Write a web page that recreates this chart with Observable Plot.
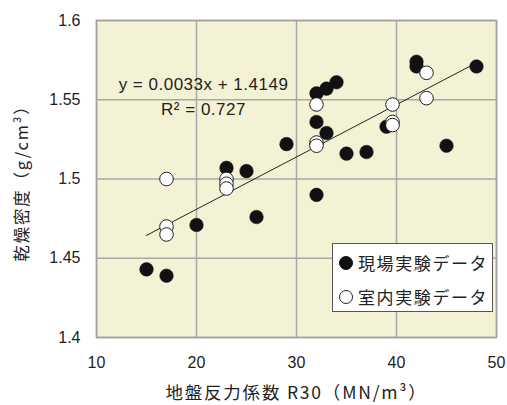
<!DOCTYPE html>
<html>
<head>
<meta charset="utf-8">
<script src="https://cdn.jsdelivr.net/npm/d3@7"></script>
<script src="https://cdn.jsdelivr.net/npm/@observablehq/plot@0.6"></script>
<style>
  html, body { margin: 0; padding: 0; background: #fff; }
  #wrap { position: relative; width: 507px; height: 405px; font-family: "Liberation Sans", "Noto Sans CJK JP", sans-serif; }
  #legend { position: absolute; left: 332px; top: 243px; width: 161px; height: 69px; background: #fff; border: 1px solid #555; box-sizing: border-box; }
  #legend .item { position: absolute; left: 5px; display: flex; align-items: center; font-size: 17px; letter-spacing: 1.6px; color: #222; font-family: "Noto Sans CJK JP", sans-serif; }
</style>
</head>
<body>
<div id="wrap"></div>
<script>
// Data: 現場実験データ (field tests)
const fieldX = [15, 17, 20, 23, 25, 26, 29, 32, 33, 34, 32, 33, 35, 37, 39, 42, 42, 45, 48, 32];
const fieldY = [1.443, 1.439, 1.471, 1.507, 1.505, 1.476, 1.522, 1.554, 1.557, 1.561, 1.536, 1.529, 1.516, 1.517, 1.533, 1.574, 1.571, 1.521, 1.571, 1.490];
// 室内実験データ (laboratory tests)
const labX = [17, 17, 17, 23, 23, 23, 32, 32, 32, 39.6, 39.6, 39.6, 43, 43];
const labY = [1.500, 1.470, 1.465, 1.500, 1.497, 1.494, 1.547, 1.523, 1.521, 1.547, 1.536, 1.534, 1.567, 1.551];
// Regression line
const slope = 0.0033, intercept = 1.4149;
const fitRange = [15, 48];
const xTicks = [10, 20, 30, 40, 50];
const yTicks = [1.4, 1.45, 1.5, 1.55, 1.6];
const seriesNames = ["現場実験データ", "室内実験データ"];
const xTitle = "地盤反力係数 R30（MN/m³）";
const yTitle = "乾燥密度（g/cm³）";
const eqText = "y = 0.0033x + 1.4149\nR² = 0.727";

const field = fieldX.map((x, i) => ({x, y: fieldY[i]}));
const lab = labX.map((x, i) => ({x, y: labY[i]}));
const fit = fitRange.map(x => ({x, y: slope * x + intercept}));

const fontFamily = '"Liberation Sans", "Noto Sans CJK JP", sans-serif';
const fig = Plot.plot({
  width: 507, height: 405,
  marginLeft: 96, marginRight: 11, marginTop: 20, marginBottom: 68,
  style: {fontFamily, fontSize: "16px", color: "#222", background: "white"},
  x: {domain: [10, 50]},
  y: {domain: [1.4, 1.6]},
  marks: [
    Plot.frame({fill: "#F4F2D4", stroke: null}),
    Plot.gridX(xTicks, {stroke: "#A8A8A8", strokeOpacity: 1, strokeWidth: 1.5}),
    Plot.gridY(yTicks, {stroke: "#A8A8A8", strokeOpacity: 1, strokeWidth: 1.5}),
    Plot.frame({stroke: "#A0A0A0", strokeWidth: 1.5}),
    Plot.axisX(xTicks, {tickSize: 0, tickPadding: 19, fontSize: 16, label: null, tickFormat: d => String(d)}),
    Plot.axisY(yTicks, {tickSize: 0, tickPadding: 16, fontSize: 16, label: null, tickFormat: d => String(+d.toFixed(2))}),
    Plot.line(fit, {x: "x", y: "y", stroke: "#222", strokeWidth: 1}),
    Plot.dot(field, {x: "x", y: "y", r: 6.8, fill: "#111", stroke: "#111", strokeWidth: 0.5}),
    Plot.dot(lab, {x: "x", y: "y", r: 6.8, fill: "#fff", stroke: "#222", strokeWidth: 1}),
    Plot.text([eqText], {frameAnchor: "top", dx: -93, dy: 74, lineAnchor: "middle", fontSize: 17, lineHeight: 1.47, fill: "#222"}),
    Plot.text([xTitle], {frameAnchor: "bottom", dy: 56, lineAnchor: "middle", fontSize: 17.5, fill: "#222", fontFamily: '"Noto Sans CJK JP", sans-serif'}),
    Plot.text([yTitle], {frameAnchor: "left", dx: -74, textAnchor: "middle", lineAnchor: "middle", rotate: -90, fontSize: 16.5, fill: "#222", fontFamily: '"Noto Sans CJK JP", sans-serif'})
  ]
});
const svgSel = d3.select(fig);
svgSel.selectAll("text").filter(function() { return /[\u3000-\u9fff\uff00-\uffef]/.test(this.textContent); }).style("letter-spacing", "1.8px");
svgSel.selectAll("text").filter(function() { return /^y = /.test(this.textContent); }).style("letter-spacing", "0.5px");
const wrap = document.getElementById("wrap");
wrap.appendChild(fig);

const legend = document.createElement("div");
legend.id = "legend";
const markers = [{fill: "#111", stroke: "#111"}, {fill: "#fff", stroke: "#222"}];
seriesNames.forEach((name, i) => {
  const item = document.createElement("div");
  item.className = "item";
  item.style.top = (i === 0 ? 6 : 40) + "px";
  item.innerHTML = `<svg width="16" height="16" style="margin-right:4px"><circle cx="8" cy="8" r="6.5" fill="${markers[i].fill}" stroke="${markers[i].stroke}" stroke-width="1"/></svg><span>${name}</span>`;
  legend.appendChild(item);
});
wrap.appendChild(legend);
</script>
</body>
</html>
